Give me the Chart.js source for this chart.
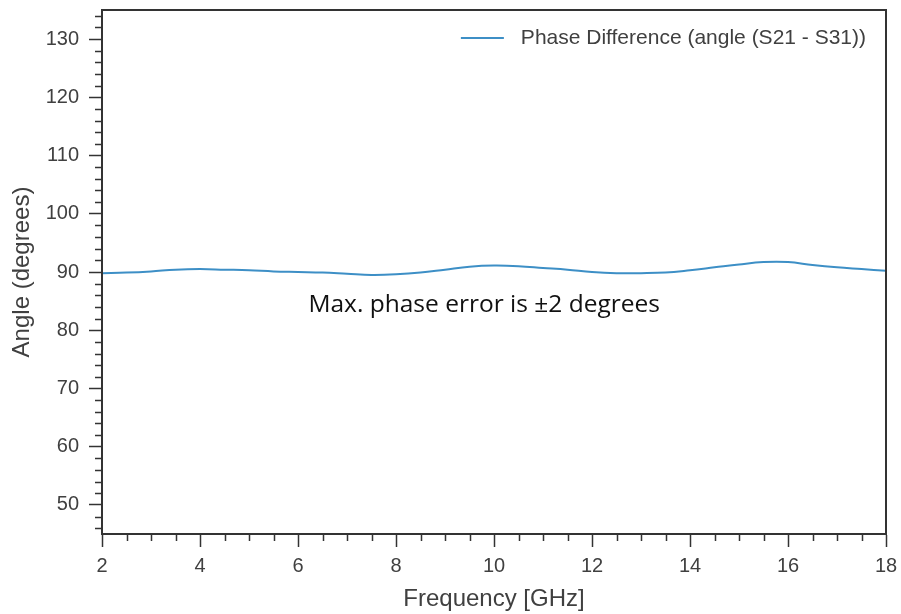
<!DOCTYPE html>
<html>
<head>
<meta charset="utf-8">
<script src="https://cdn.jsdelivr.net/npm/chart.js@4/dist/chart.umd.min.js"></script>
<style>
  html, body { margin: 0; padding: 0; background: #fff; }
  #wrap { width: 901px; height: 614px; }
</style>
</head>
<body>
<div id="wrap"><canvas id="phaseChart" width="901" height="614"></canvas></div>
<script>
// frequency points (GHz) and phase difference
const freqGHz = [2, 2.5, 3, 3.5, 4, 4.5, 5, 5.5, 6, 6.5, 7, 7.5, 8, 8.5, 9, 9.5, 10,
                 10.5, 11, 11.5, 12, 12.5, 13, 13.5, 14, 14.5, 15, 15.5, 16, 16.5, 17, 17.5, 18];
const phaseDeg = [89.8, 89.9, 90.1, 90.4, 90.5, 90.4, 90.3, 90.1, 90.0, 89.9, 89.7, 89.5, 89.6, 89.9, 90.4, 90.9, 91.1,
                  91.0, 90.7, 90.4, 90.0, 89.8, 89.8, 89.9, 90.3, 90.8, 91.3, 91.7, 91.7, 91.2, 90.8, 90.5, 90.2];
const yTicks = [50, 60, 70, 80, 90, 100, 110, 120, 130];
const seriesLabel = 'Phase Difference (angle (S21 - S31))';
const noteText = 'Max. phase error is \u00B12 degrees';

const axisColor = '#333333';
const textColor = '#404040';
const lineColor = '#3d8fc6';

// frame, minor ticks, legend and the note
const extras = {
    id: 'extras',
    afterDraw(chart) {
        const ctx = chart.ctx;
        const a = chart.chartArea;
        const xs = chart.scales.x;
        const ys = chart.scales.y;
        ctx.save();

        // box around plot
        ctx.strokeStyle = axisColor;
        ctx.lineWidth = 2;
        ctx.strokeRect(a.left, a.top, a.right - a.left, a.bottom - a.top);

        // minor ticks
        ctx.lineWidth = 1.5;
        ctx.beginPath();
        for (let v = 2.5; v < 18; v += 0.5) {
            if (v % 2 === 0) continue;
            const px = Math.round(xs.getPixelForValue(v)) + 0.5;
            ctx.moveTo(px, a.bottom);
            ctx.lineTo(px, a.bottom + 7);
        }
        for (let v = 46; v <= 134; v += 2) {
            if (v % 10 === 0) continue;
            const py = Math.round(ys.getPixelForValue(v)) + 0.5;
            ctx.moveTo(a.left, py);
            ctx.lineTo(a.left - 7, py);
        }
        ctx.stroke();

        // legend
        ctx.font = '21px "Liberation Sans", Arial, sans-serif';
        ctx.textBaseline = 'middle';
        ctx.textAlign = 'left';
        const tw = ctx.measureText(seriesLabel).width;
        const tx = a.right - 20 - tw;
        const ly = a.top + 28;
        ctx.strokeStyle = lineColor;
        ctx.lineWidth = 2;
        ctx.beginPath();
        ctx.moveTo(tx - 60, ly);
        ctx.lineTo(tx - 17, ly);
        ctx.stroke();
        ctx.fillStyle = textColor;
        ctx.fillText(seriesLabel, tx, ly);

        // note
        ctx.font = '24.5px "Open Sans", "Noto Sans", sans-serif';
        ctx.fillStyle = '#111';
        ctx.textAlign = 'center';
        ctx.textBaseline = 'alphabetic';
        ctx.fillText(noteText, xs.getPixelForValue(9.8), ys.getPixelForValue(83.2));
        ctx.restore();
    }
};

function noScalePadding(scale) {
    scale.paddingTop = 0;
    scale.paddingBottom = 0;
    scale.paddingLeft = 0;
    scale.paddingRight = 0;
}

const chart = new Chart(document.getElementById('phaseChart').getContext('2d'), {
    type: 'line',
    data: {
        labels: freqGHz,
        datasets: [{
            label: seriesLabel,
            data: freqGHz.map((f, i) => ({ x: f, y: phaseDeg[i] })),
            borderColor: lineColor,
            borderWidth: 2,
            pointRadius: 0,
            tension: 0.4,
            fill: false
        }]
    },
    options: {
        responsive: false,
        animation: false,
        layout: { padding: { left: 8, right: 15, top: 10, bottom: 0 } },
        plugins: {
            legend: { display: false },
            tooltip: { enabled: false }
        },
        scales: {
            x: {
                type: 'linear',
                min: 2,
                max: 18,
                afterFit(scale) { scale.height = 80; noScalePadding(scale); },
                border: { display: true, color: axisColor, width: 2 },
                grid: { drawOnChartArea: false, drawTicks: true, tickLength: 13, tickColor: axisColor, tickWidth: 1.5 },
                ticks: {
                    stepSize: 2,
                    color: textColor,
                    padding: 7,
                    maxRotation: 0,
                    font: { family: '"Liberation Sans", Arial, sans-serif', size: 20 }
                },
                title: {
                    display: true,
                    text: 'Frequency [GHz]',
                    color: textColor,
                    padding: { top: 4, bottom: 0 },
                    font: { family: '"Liberation Sans", Arial, sans-serif', size: 24 }
                }
            },
            y: {
                min: 45,
                max: 135,
                afterFit(scale) { scale.width = 94; noScalePadding(scale); },
                afterBuildTicks(scale) { scale.ticks = yTicks.map(v => ({ value: v })); },
                border: { display: true, color: axisColor, width: 2 },
                grid: { drawOnChartArea: false, drawTicks: true, tickLength: 13, tickColor: axisColor, tickWidth: 1.5 },
                ticks: {
                    color: textColor,
                    padding: 10,
                    font: { family: '"Liberation Sans", Arial, sans-serif', size: 20 }
                },
                title: {
                    display: true,
                    text: 'Angle (degrees)',
                    color: textColor,
                    padding: { top: 0, bottom: 0 },
                    font: { family: '"Liberation Sans", Arial, sans-serif', size: 24 }
                }
            }
        }
    },
    plugins: [extras]
});
</script>
</body>
</html>
